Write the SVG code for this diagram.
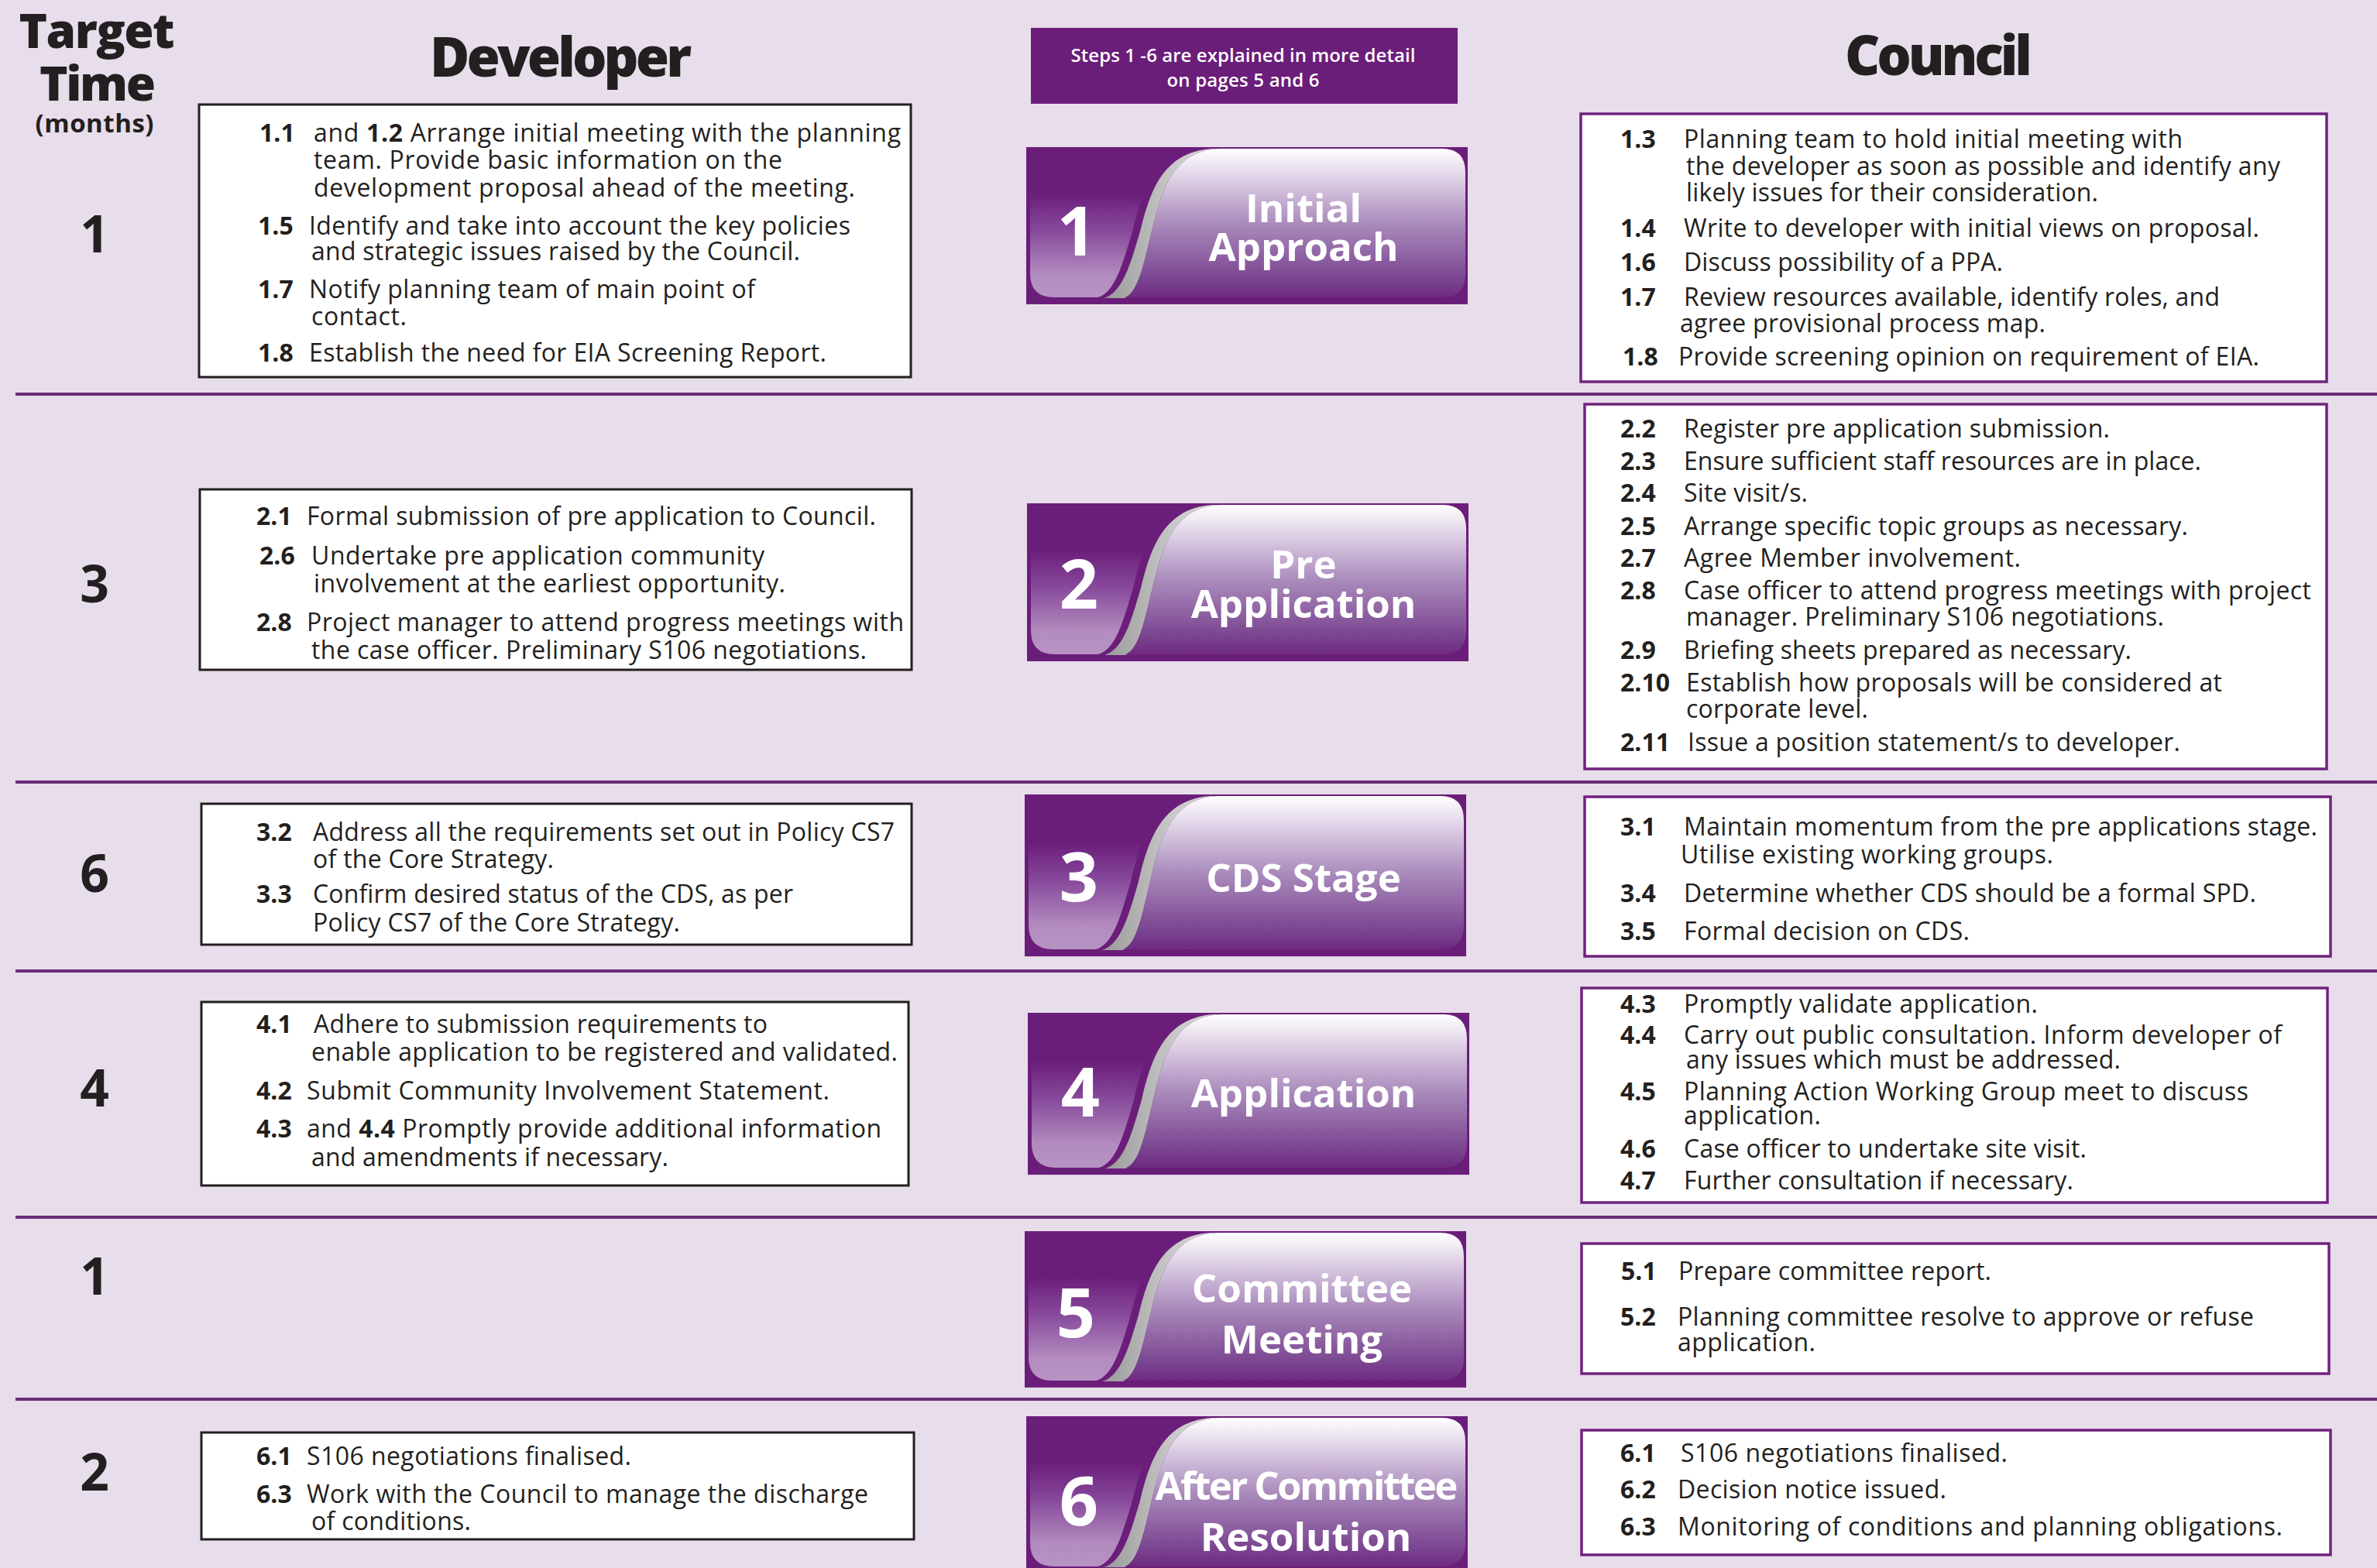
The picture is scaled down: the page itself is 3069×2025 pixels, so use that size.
<svg xmlns="http://www.w3.org/2000/svg" xmlns:xlink="http://www.w3.org/1999/xlink" width="3069" height="2025" viewBox="0 0 3069 2025">
<style>
text{font-family:"Open Sans","Noto Sans","Liberation Sans",sans-serif;fill:#231F20}
.t{font-size:32px}
.n{font-size:32px;font-weight:700}
.b{font-weight:700}
.hd{font-weight:800;text-anchor:middle}
.tm{font-size:66px;font-weight:700;text-anchor:middle}
.bn{font-size:88px;font-weight:700;fill:#fff;text-anchor:middle}
.bt{font-size:51px;font-weight:700;fill:#fff;text-anchor:middle}
.note{font-size:24px;font-weight:600;fill:#fff;text-anchor:middle}
.sep{stroke:#6A2C78;stroke-width:4}
.dbox{fill:#fff;stroke:#231F20;stroke-width:3}
.cbox{fill:#fff;stroke:#70237F;stroke-width:3.5}
</style>
<defs>
<linearGradient id="gTab" x1="0" y1="0" x2="0" y2="1">
<stop offset="0" stop-color="#6B1D7A"/>
<stop offset="0.3" stop-color="#6B1D7A"/>
<stop offset="0.55" stop-color="#87499B"/>
<stop offset="0.85" stop-color="#B28CBF"/>
<stop offset="1" stop-color="#B793C3"/>
</linearGradient>
<linearGradient id="gPanel" x1="0" y1="0" x2="0" y2="1">
<stop offset="0" stop-color="#FFFFFF"/>
<stop offset="0.1" stop-color="#EFE8F2"/>
<stop offset="0.3" stop-color="#CDB9D8"/>
<stop offset="0.5" stop-color="#AA8CBC"/>
<stop offset="0.7" stop-color="#9166A5"/>
<stop offset="0.88" stop-color="#7A4490"/>
<stop offset="1" stop-color="#6E2A80"/>
</linearGradient>
<linearGradient id="gGrey" x1="0" y1="0" x2="1" y2="0">
<stop offset="0" stop-color="#9A9A9A"/>
<stop offset="0.6" stop-color="#C8C8C8"/>
<stop offset="1" stop-color="#D8D8D8"/>
</linearGradient>
<g id="badge">
<rect x="0" y="0" width="570" height="205" fill="#6B1D7A"/>
<path d="M5,30 L5,165 Q5,196 36,196 L92,196 C115,190 125,150 137,110 C150,55 168,6 228,2 L5,2 Z" fill="url(#gTab)"/>
<path d="M100,197 C125,190 135,150 147,110 C160,55 178,6 240,2 L250,2 C190,4 175,55 162,110 C152,150 145,190 127,197 Z" fill="url(#gGrey)"/>
<path d="M127,196 C145,190 152,150 162,110 C175,55 190,4 250,2 L537,2 Q567,2 567,33 L567,166 Q567,196 537,196 Z" fill="url(#gPanel)"/>
</g>
</defs>

<rect x="0" y="0" width="3069" height="2025" fill="#E8DDEB"/>

<g id="row-separators">
<line class="sep" x1="20" y1="509" x2="3069" y2="509"/>
<line class="sep" x1="20" y1="1010" x2="3069" y2="1010"/>
<line class="sep" x1="20" y1="1254" x2="3069" y2="1254"/>
<line class="sep" x1="20" y1="1572" x2="3069" y2="1572"/>
<line class="sep" x1="20" y1="1807" x2="3069" y2="1807"/>
</g>

<g id="headers">
<text class="hd" x="125" y="62" font-size="62" textLength="201">Target</text>
<text class="hd" x="126" y="130" font-size="62" textLength="150">Time</text>
<text x="122" y="171" font-size="33" font-weight="700" text-anchor="middle" textLength="153">(months)</text>
<text class="hd" x="724" y="99" font-size="70" textLength="338">Developer</text>
<text class="hd" x="2503" y="97" font-size="70" textLength="242">Council</text>
</g>

<g id="note">
<rect x="1331" y="36" width="551" height="98" fill="#6B1D7A"/>
<text class="note" x="1605" y="80" textLength="445">Steps 1 -6 are explained in more detail</text>
<text class="note" x="1605" y="112" textLength="197">on pages 5 and 6</text>
</g>

<g id="target-times">
<text class="tm" x="122" y="326">1</text>
<text class="tm" x="122" y="778">3</text>
<text class="tm" x="122" y="1152">6</text>
<text class="tm" x="122" y="1429">4</text>
<text class="tm" x="122" y="1672">1</text>
<text class="tm" x="122" y="1925">2</text>
</g>

<g id="stage1">
<use xlink:href="#badge" href="#badge" transform="translate(1325,190) scale(1,0.99)"/>
<text class="bn" x="1390" y="330">1</text>
<text class="bt" x="1683" y="287">Initial</text>
<text class="bt" x="1683" y="337">Approach</text>
</g>
<g id="stage2">
<use xlink:href="#badge" href="#badge" transform="translate(1326,650) scale(1,0.995)"/>
<text class="bn" x="1393" y="786">2</text>
<text class="bt" x="1683" y="747">Pre</text>
<text class="bt" x="1683" y="798">Application</text>
</g>
<g id="stage3">
<use xlink:href="#badge" href="#badge" transform="translate(1323,1026) scale(1,1.02)"/>
<text class="bn" x="1393" y="1164">3</text>
<text class="bt" x="1683" y="1152">CDS Stage</text>
</g>
<g id="stage4">
<use xlink:href="#badge" href="#badge" transform="translate(1327,1308) scale(1,1.02)"/>
<text class="bn" x="1395" y="1442">4</text>
<text class="bt" x="1683" y="1430">Application</text>
</g>
<g id="stage5">
<use xlink:href="#badge" href="#badge" transform="translate(1323,1590) scale(1,0.985)"/>
<text class="bn" x="1389" y="1727">5</text>
<text class="bt" x="1681" y="1682">Committee</text>
<text class="bt" x="1681" y="1748">Meeting</text>
</g>
<g id="stage6">
<use xlink:href="#badge" href="#badge" transform="translate(1325,1829) scale(1,0.99)"/>
<text class="bn" x="1393" y="1970">6</text>
<text class="bt" x="1687" y="1937" textLength="391">After Committee</text>
<text class="bt" x="1686" y="2003">Resolution</text>
</g>

<g id="developer1">
<rect class="dbox" x="257" y="135" width="919" height="352"/>
<text class="n" x="335" y="183">1.1</text>
<text class="t" x="405" y="183" textLength="758">and <tspan class="b">1.2</tspan> Arrange initial meeting with the planning</text>
<text class="t" x="405" y="218" textLength="605">team.  Provide basic information on the</text>
<text class="t" x="405" y="254" textLength="699">development proposal ahead of the meeting.</text>
<text class="n" x="333" y="303">1.5</text>
<text class="t" x="399" y="303" textLength="699">Identify and take into account the key policies</text>
<text class="t" x="402" y="336" textLength="631">and strategic issues raised by the Council.</text>
<text class="n" x="333" y="385">1.7</text>
<text class="t" x="399" y="385" textLength="576">Notify planning team of main point of</text>
<text class="t" x="402" y="420" textLength="123">contact.</text>
<text class="n" x="333" y="467">1.8</text>
<text class="t" x="399" y="467" textLength="668">Establish the need for EIA Screening Report.</text>
</g>

<g id="developer2">
<rect class="dbox" x="258" y="632" width="919" height="233"/>
<text class="n" x="331" y="678">2.1</text>
<text class="t" x="396" y="678" textLength="735">Formal submission of pre application to Council.</text>
<text class="n" x="335" y="729">2.6</text>
<text class="t" x="402" y="729" textLength="585">Undertake pre application community</text>
<text class="t" x="405" y="765" textLength="609">involvement at the earliest opportunity.</text>
<text class="n" x="331" y="815">2.8</text>
<text class="t" x="396" y="815" textLength="771">Project manager to attend progress meetings with</text>
<text class="t" x="402" y="851" textLength="717">the case officer.  Preliminary S106 negotiations.</text>
</g>

<g id="developer3">
<rect class="dbox" x="260" y="1038" width="917" height="182"/>
<text class="n" x="331" y="1086">3.2</text>
<text class="t" x="404" y="1086" textLength="751">Address all the requirements set out in Policy CS7</text>
<text class="t" x="404" y="1121" textLength="311">of the Core Strategy.</text>
<text class="n" x="331" y="1166">3.3</text>
<text class="t" x="404" y="1166" textLength="620">Confirm desired status of the CDS, as per</text>
<text class="t" x="404" y="1203" textLength="474">Policy CS7 of the Core Strategy.</text>
</g>

<g id="developer4">
<rect class="dbox" x="260" y="1294" width="913" height="237"/>
<text class="n" x="331" y="1334">4.1</text>
<text class="t" x="405" y="1334" textLength="586">Adhere to submission requirements to</text>
<text class="t" x="402" y="1370" textLength="757">enable application to be registered and validated.</text>
<text class="n" x="331" y="1420">4.2</text>
<text class="t" x="396" y="1420" textLength="675">Submit Community Involvement Statement.</text>
<text class="n" x="331" y="1469">4.3</text>
<text class="t" x="396" y="1469" textLength="742">and <tspan class="b">4.4</tspan> Promptly provide additional information</text>
<text class="t" x="402" y="1506" textLength="461">and amendments if necessary.</text>
</g>

<g id="developer6">
<rect class="dbox" x="260" y="1850" width="920" height="138"/>
<text class="n" x="331" y="1892">6.1</text>
<text class="t" x="396" y="1892" textLength="419">S106 negotiations finalised.</text>
<text class="n" x="331" y="1941">6.3</text>
<text class="t" x="396" y="1941" textLength="725">Work with the Council to manage the discharge</text>
<text class="t" x="402" y="1976" textLength="206">of conditions.</text>
</g>

<g id="council1">
<rect class="cbox" x="2041" y="147" width="963" height="346"/>
<text class="n" x="2092" y="191">1.3</text>
<text class="t" x="2174" y="191" textLength="644">Planning team to hold initial meeting with</text>
<text class="t" x="2177" y="226" textLength="767">the developer as soon as possible and identify any</text>
<text class="t" x="2177" y="260" textLength="532">likely issues for their consideration.</text>
<text class="n" x="2092" y="306">1.4</text>
<text class="t" x="2174" y="306" textLength="743">Write to developer with initial views on proposal.</text>
<text class="n" x="2092" y="350">1.6</text>
<text class="t" x="2174" y="350" textLength="412">Discuss possibility of a PPA.</text>
<text class="n" x="2092" y="395">1.7</text>
<text class="t" x="2174" y="395" textLength="692">Review resources available, identify roles, and</text>
<text class="t" x="2169" y="429" textLength="472">agree provisional process map.</text>
<text class="n" x="2095" y="472">1.8</text>
<text class="t" x="2167" y="472" textLength="750">Provide screening opinion on requirement of EIA.</text>
</g>

<g id="council2">
<rect class="cbox" x="2046" y="522" width="958" height="471"/>
<text class="n" x="2092" y="565">2.2</text>
<text class="t" x="2174" y="565" textLength="550">Register pre application submission.</text>
<text class="n" x="2092" y="607">2.3</text>
<text class="t" x="2174" y="607" textLength="668">Ensure sufficient staff resources are in place.</text>
<text class="n" x="2092" y="648">2.4</text>
<text class="t" x="2174" y="648" textLength="160">Site visit/s.</text>
<text class="n" x="2092" y="691">2.5</text>
<text class="t" x="2174" y="691" textLength="651">Arrange specific topic groups as necessary.</text>
<text class="n" x="2092" y="732">2.7</text>
<text class="t" x="2174" y="732" textLength="435">Agree Member involvement.</text>
<text class="n" x="2092" y="774">2.8</text>
<text class="t" x="2174" y="774" textLength="810">Case officer to attend progress meetings with project</text>
<text class="t" x="2177" y="808" textLength="617">manager. Preliminary S106 negotiations.</text>
<text class="n" x="2092" y="851">2.9</text>
<text class="t" x="2174" y="851" textLength="578">Briefing sheets prepared as necessary.</text>
<text class="n" x="2092" y="893">2.10</text>
<text class="t" x="2177" y="893" textLength="692">Establish how proposals will be considered at</text>
<text class="t" x="2177" y="927" textLength="235">corporate level.</text>
<text class="n" x="2092" y="970">2.11</text>
<text class="t" x="2179" y="970" textLength="636">Issue a position statement/s to developer.</text>
</g>

<g id="council3">
<rect class="cbox" x="2046" y="1029" width="963" height="206"/>
<text class="n" x="2092" y="1079">3.1</text>
<text class="t" x="2174" y="1079" textLength="818">Maintain momentum from the pre applications stage.</text>
<text class="t" x="2170" y="1115" textLength="481">Utilise existing working groups.</text>
<text class="n" x="2092" y="1165">3.4</text>
<text class="t" x="2174" y="1165" textLength="739">Determine whether CDS should be a formal SPD.</text>
<text class="n" x="2092" y="1214">3.5</text>
<text class="t" x="2174" y="1214" textLength="369">Formal decision on CDS.</text>
</g>

<g id="council4">
<rect class="cbox" x="2042" y="1276" width="963" height="277"/>
<text class="n" x="2092" y="1308">4.3</text>
<text class="t" x="2174" y="1308" textLength="457">Promptly validate application.</text>
<text class="n" x="2092" y="1348">4.4</text>
<text class="t" x="2174" y="1348" textLength="772">Carry out public consultation.  Inform developer of</text>
<text class="t" x="2177" y="1380" textLength="561">any issues which must be addressed.</text>
<text class="n" x="2092" y="1421">4.5</text>
<text class="t" x="2174" y="1421" textLength="729">Planning Action Working Group meet to discuss</text>
<text class="t" x="2174" y="1452" textLength="177">application.</text>
<text class="n" x="2092" y="1495">4.6</text>
<text class="t" x="2174" y="1495" textLength="520">Case officer to undertake site visit.</text>
<text class="n" x="2092" y="1536">4.7</text>
<text class="t" x="2174" y="1536" textLength="503">Further consultation if necessary.</text>
</g>

<g id="council5">
<rect class="cbox" x="2042" y="1606" width="965" height="168"/>
<text class="n" x="2093" y="1653">5.1</text>
<text class="t" x="2167" y="1653" textLength="404">Prepare committee report.</text>
<text class="n" x="2092" y="1712">5.2</text>
<text class="t" x="2166" y="1712" textLength="744">Planning committee resolve to approve or refuse</text>
<text class="t" x="2166" y="1745" textLength="178">application.</text>
</g>

<g id="council6">
<rect class="cbox" x="2042" y="1847" width="967" height="161"/>
<text class="n" x="2092" y="1888">6.1</text>
<text class="t" x="2170" y="1888" textLength="422">S106 negotiations finalised.</text>
<text class="n" x="2092" y="1935">6.2</text>
<text class="t" x="2166" y="1935" textLength="347">Decision notice issued.</text>
<text class="n" x="2092" y="1983">6.3</text>
<text class="t" x="2166" y="1983" textLength="781">Monitoring of conditions and planning obligations.</text>
</g>
</svg>
